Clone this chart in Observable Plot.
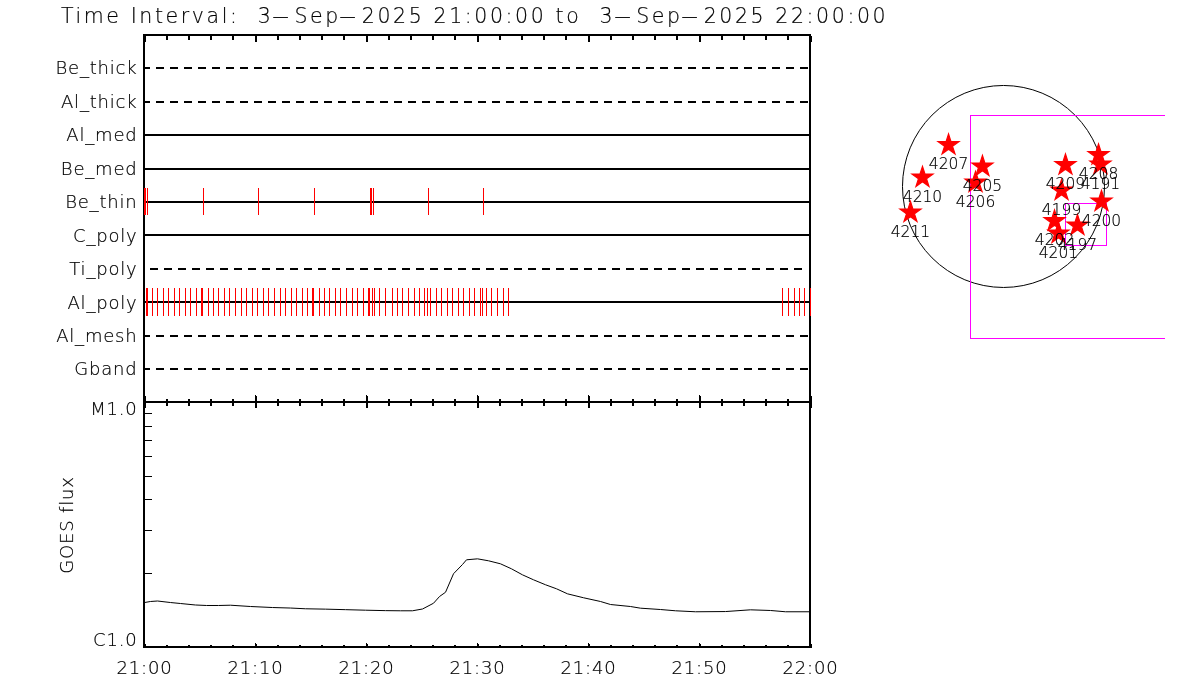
<!DOCTYPE html>
<html><head><meta charset="utf-8">
<script src="https://cdn.jsdelivr.net/npm/d3@7"></script>
<script src="https://cdn.jsdelivr.net/npm/@observablehq/plot@0.6"></script>
<style>
html,body{margin:0;padding:0;background:#fff}
#wrap{position:relative;width:1200px;height:700px;overflow:hidden;font-family:"DejaVu Sans",sans-serif;font-weight:200;color:#000}
#title{position:absolute;left:61px;top:2px;font-size:20.5px;line-height:28px;letter-spacing:2.6px;white-space:pre;will-change:transform;-webkit-text-stroke:0.2px #000}
#title span{display:inline-block;transform:scaleX(2.6);margin:0 5.5px}
#wrap svg{position:absolute;background:transparent;max-width:none;will-change:transform}
#wrap svg text{fill:#000;stroke:#000;stroke-width:0.2px}
</style></head><body>
<div id="wrap"><div id="title">Time Interval:  3<span>-</span>Sep<span>-</span>2025 21:00:00 to  3<span>-</span>Sep<span>-</span>2025 22:00:00</div></div>
<script>
const channels = ["Be_thick","Al_thick","Al_med","Be_med","Be_thin","C_poly","Ti_poly","Al_poly","Al_mesh","Gband"];
const solidChannels = ["Al_med","Be_med","Be_thin","C_poly","Al_poly"];
const dashedChannels = ["Be_thick","Al_thick","Al_mesh","Gband"];
const shortDashedChannels = ["Ti_poly"];
// minutes after 21:00
const beThinTimes = [0.01,0.1,0.28,5.33,10.28,15.33,20.37,20.46,20.64,25.6,30.55];
const alPolyTimes = [0.18,0.27,0.72,1.17,1.71,2.16,2.7,3.15,3.69,4.14,4.68,5.14,5.23,5.77,6.22,6.67,7.21,7.66,8.2,8.74,9.19,9.73,10.18,10.72,11.17,11.71,12.25,12.7,13.24,13.69,14.23,14.68,15.14,15.23,15.77,16.22,16.67,17.21,17.66,18.2,18.74,19.19,19.73,20.18,20.27,20.54,20.72,21.17,21.71,22.34,22.79,23.24,23.78,24.32,24.77,25.23,25.5,25.77,26.31,26.76,27.3,27.75,28.29,28.74,29.28,29.73,30.27,30.45,30.81,31.26,31.8,32.34,32.79,57.48,58.02,58.56,59.01,59.46,60];
const goesMinutes = [0,0.54,1.17,2.34,3.24,4.59,5.59,6.67,7.75,9.55,11.53,13.15,14.5,16.31,18.11,19.91,21.71,23.06,24.14,25.05,26.04,26.58,27.12,27.84,28.65,29.01,30,30.99,32.07,33.06,34.05,35.05,36.13,37.12,38.11,39.55,41.08,41.98,43.78,44.68,46.49,47.84,49.64,52.34,54.59,56.4,57.75,60];
// GOES flux in units of C1.0
const goesFlux = [1.526,1.541,1.548,1.526,1.512,1.491,1.484,1.484,1.488,1.47,1.456,1.449,1.439,1.434,1.427,1.42,1.414,1.412,1.412,1.436,1.516,1.615,1.681,2.0,2.182,2.28,2.301,2.259,2.196,2.095,1.98,1.889,1.803,1.736,1.656,1.596,1.541,1.498,1.47,1.447,1.429,1.412,1.399,1.402,1.425,1.416,1.399,1.399];
const majorMinutes = [0,10,20,30,40,50,60];
const minorMinutes = [2,4,6,8,12,14,16,18,22,24,26,28,32,34,36,38,42,44,46,48,52,54,56,58];
const fluxMinorTicks = [2,3,4,5,6,7,8,9];
const fluxLabels = ["C1.0","M1.0"];
// Active regions, heliocentric arcsec
const regionIds = ["4207","4210","4211","4205","4206","4209","4208","4191","4199","4200","4202","4197","4201"];
const regionX = [-517,-762,-875,-198,-263,583,894,912,546,922,480,696,517];
const regionY = [390,85,-245,188,38,202,296,207,-38,-141,-325,-367,-442];
const fovBoxX = [[-306,1900],[588,974]];
const fovBoxY = [[-1439,663],[-560,-165]];
const sunRadius = 950;

const T = m => new Date(Date.UTC(2025,8,3,21,0,0) + m*60000);
const fmt = d3.utcFormat("%H:%M");
const xDomain = [T(0),T(60)];
const TXT = {fontFamily:"'DejaVu Sans', sans-serif", fontWeight:200, fontSize:18};
const crisp = {shapeRendering:"crispEdges"};
const wrap = document.getElementById("wrap");
function addSvg(svg,l,t,spacing){svg.style.left=l+"px";svg.style.top=t+"px";svg.style.background="transparent";svg.style.overflow="visible";svg.style.letterSpacing=spacing;wrap.appendChild(svg);}
const stem = {draw(c,l){c.moveTo(0,0);c.lineTo(0,-l);}};
const edgeTicksX = (minutes,anchor,len)=>Plot.vector(minutes.map(T),{x:d=>d,frameAnchor:anchor,anchor:"start",length:len,rotate:anchor==="top"?180:0,shape:stem,stroke:"black",strokeWidth:2,...crisp});

// Channel panel
const channelRows = (names,start,end)=>names.map(c=>({c,x1:T(start),x2:T(end)}));
const ruleOpts = {y:"c",x1:"x1",x2:"x2",stroke:"black",strokeWidth:2,dy:-0.5,...crisp};
const tickOpts = {x:"t",y:"c",stroke:"#ff0000",strokeWidth:1,insetTop:3,insetBottom:3,dy:-0.5,...crisp};
const topPanel = Plot.plot({
  width:840,height:420,marginLeft:144,marginRight:30,marginTop:35,marginBottom:18,
  style:{background:"transparent",overflow:"visible"},
  x:{type:"utc",domain:xDomain,axis:null},
  y:{type:"band",domain:channels,padding:0,round:false,range:[51.5,385.9],axis:null},
  marks:[
    Plot.frame({stroke:"black",strokeWidth:2,dx:-0.5,dy:-0.5,...crisp}),
    Plot.ruleY(channelRows(solidChannels,0,60),ruleOpts),
    Plot.ruleY(channelRows(dashedChannels,0,59.9),{...ruleOpts,strokeDasharray:"8,6",strokeDashoffset:2}),
    Plot.ruleY(channelRows(shortDashedChannels,0,59.6),{...ruleOpts,strokeDasharray:"8,6",strokeDashoffset:8}),
    Plot.tickX(beThinTimes.map(t=>({t:T(t),c:"Be_thin"})),tickOpts),
    Plot.tickX(alPolyTimes.map(t=>({t:T(t),c:"Al_poly"})),tickOpts),
    Plot.axisY({anchor:"left",tickSize:0,tickPadding:7,label:null,...TXT,lineWidth:20}),
    edgeTicksX(majorMinutes,"top",6),
    edgeTicksX(minorMinutes,"top",3.5),
    edgeTicksX(majorMinutes,"bottom",7),
    edgeTicksX(minorMinutes,"bottom",3)
  ]
});
addSvg(topPanel,0,0,"0.8px");

// GOES panel
const goesRows = goesMinutes.map((m,i)=>({t:T(m),f:goesFlux[i]}));
const goesPanel = Plot.plot({
  width:840,height:700,marginLeft:144,marginRight:30,marginTop:402,marginBottom:53,
  style:{background:"transparent",overflow:"visible"},
  x:{type:"utc",domain:xDomain,axis:null},
  y:{type:"log",domain:[1,10],axis:null},
  marks:[
    Plot.frame({stroke:"black",strokeWidth:2,dx:-0.5,dy:-0.5,...crisp}),
    Plot.line(goesRows,{x:"t",y:"f",stroke:"black",strokeWidth:1,curve:"linear"}),
    edgeTicksX(majorMinutes,"top",5),
    edgeTicksX(minorMinutes,"top",3),
    edgeTicksX(majorMinutes,"bottom",4),
    edgeTicksX(minorMinutes,"bottom",2),
    Plot.text(majorMinutes.map(T),{x:d=>d,text:d=>fmt(d),frameAnchor:"bottom",dy:26,...TXT}),
    Plot.vector(fluxMinorTicks,{y:d=>d,frameAnchor:"left",anchor:"start",length:7,rotate:90,shape:stem,stroke:"black",strokeWidth:1,...crisp}),
    Plot.text([fluxLabels[1]],{y:()=>10,frameAnchor:"left",dx:-7,dy:7,textAnchor:"end",...TXT}),
    Plot.text([fluxLabels[0]],{y:()=>1,frameAnchor:"left",dx:-7,dy:-7,textAnchor:"end",...TXT}),
    Plot.text(["GOES flux"],{frameAnchor:"left",dx:-77,rotate:-90,textAnchor:"middle",...TXT})
  ]
});
addSvg(goesPanel,0,0,"0.8px");

// Solar disc panel
const regions = regionIds.map((id,i)=>({id,x:regionX[i],y:regionY[i]}));
const boxes = fovBoxX.map((b,i)=>({x1:b[0],x2:b[1],y1:fovBoxY[i][0],y2:fovBoxY[i][1]}));
const sunPanel = Plot.plot({
  width:285,height:265,margin:0,
  style:{background:"transparent",overflow:"visible"},
  x:{domain:[-1157,1524],axis:null},
  y:{domain:[-1496,997],axis:null},
  r:{type:"linear",domain:[0,sunRadius],range:[0,101]},
  marks:[
    Plot.dot([{x:0,y:0,r:sunRadius}],{x:"x",y:"y",r:"r",stroke:"black",strokeWidth:1,fill:"none"}),
    Plot.rect(boxes,{x1:"x1",x2:"x2",y1:"y1",y2:"y2",fill:"none",stroke:"#ff00ff",strokeWidth:1,clip:true,...crisp}),
    Plot.dot(regions,{x:"x",y:"y",symbol:"star",r:6.6,fill:"#ff0000",stroke:"#ff0000",strokeWidth:1.2}),
    Plot.text(regions,{x:"x",y:"y",text:"id",dy:19.5,...TXT,fontSize:15.5})
  ]
});
addSvg(sunPanel,880,80,"0");
</script>
</body></html>
